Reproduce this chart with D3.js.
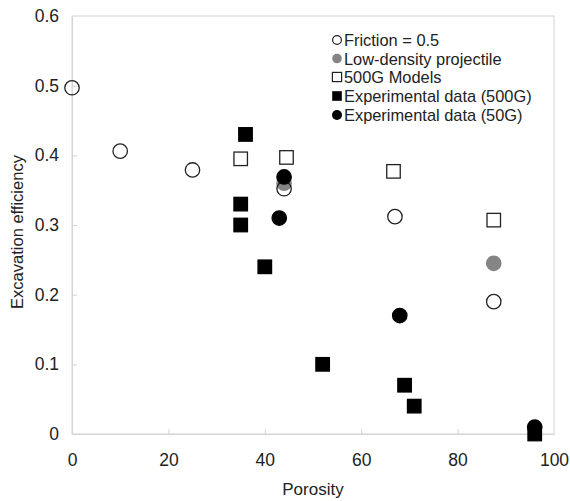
<!DOCTYPE html>
<html><head><meta charset="utf-8">
<script src="https://cdn.jsdelivr.net/npm/d3@7"></script>
<style>body{margin:0;background:#fff}svg{display:block;font-family:"Liberation Sans",Arial,sans-serif}</style>
</head><body><svg id="c" width="570" height="501"></svg>
<script>
const xTicks = [0, 20, 40, 60, 80, 100];
const yTicks = [0, 0.1, 0.2, 0.3, 0.4, 0.5, 0.6];
const yTickLabels = ["0", "0.1", "0.2", "0.3", "0.4", "0.5", "0.6"];
const friction = [[0,0.497],[10,0.406],[25,0.379],[44,0.352],[67,0.312],[87.5,0.19]];
const lowDensity = [[44,0.36],[87.5,0.245]];
const models500G = [[35,0.395],[44.5,0.397],[66.7,0.377],[87.5,0.307]];
const exp500G = [[36,0.43],[35,0.33],[35,0.30],[40,0.24],[52,0.10],[69,0.07],[71,0.04],[96,0.0]];
const exp50G = [[44,0.369],[43,0.31],[68,0.17],[96,0.01]];
const legendLabels = ["Friction = 0.5","Low-density projectile","500G Models","Experimental data (500G)","Experimental data (50G)"];

const svg = d3.select("#c");
const L=72,T=16,R=554,B=434;
const x = d3.scaleLinear().domain([0,100]).range([L,R]);
const y = d3.scaleLinear().domain([0,0.6]).range([B,T]);
const grid="#d4d4d4";
svg.append("rect").attr("x",L).attr("y",T).attr("width",R-L).attr("height",B-T).attr("fill","none").attr("stroke",grid).attr("stroke-width",1);
const xa = svg.append("g").attr("transform",`translate(0,${B})`).call(d3.axisBottom(x).tickValues(xTicks).tickSizeInner(-5).tickSizeOuter(0).tickPadding(20));
const ya = svg.append("g").attr("transform",`translate(${L},0)`).call(d3.axisLeft(y).tickValues(yTicks).tickFormat((d,i)=>yTickLabels[i]).tickSizeInner(-5).tickSizeOuter(0).tickPadding(13));
[xa,ya].forEach(a=>{a.select(".domain").attr("stroke",grid);a.selectAll(".tick line").attr("stroke",grid);a.selectAll("text").attr("font-size",17.5).attr("fill","#222").attr("font-family","'Liberation Sans',Arial,sans-serif");});
ya.selectAll(".tick").filter(d=>d===0.6||d===0).select("line").remove();
xa.selectAll(".tick").filter(d=>d===0||d===100).select("line").remove();

svg.append("text").attr("x",(L+R)/2).attr("y",495).attr("text-anchor","middle").attr("font-size",17).attr("fill","#222").text("Porosity");
svg.append("text").attr("transform",`translate(23,232) rotate(-90)`).attr("text-anchor","middle").attr("font-size",16.5).attr("fill","#222").text("Excavation efficiency");

const g = svg.append("g");
const r=7.2, s=13.5;
function circles(data,fill,stroke){g.selectAll(null).data(data).enter().append("circle").attr("cx",d=>x(d[0])).attr("cy",d=>y(d[1])).attr("r",r).attr("fill",fill).attr("stroke",stroke).attr("stroke-width",1.3);}
function squares(data,fill,stroke){g.selectAll(null).data(data).enter().append("rect").attr("x",d=>x(d[0])-s/2).attr("y",d=>y(d[1])-s/2).attr("width",s).attr("height",s).attr("fill",fill).attr("stroke",stroke).attr("stroke-width",1.3);}
circles(lowDensity,"#858585","#858585");
circles(friction,"none","#222");
squares(models500G,"#fff","#222");
squares(exp500G,"#000","#000");
circles(exp50G,"#000","#000");

const lg = svg.append("g");
const ly=[40,58.5,77,96,115];
legendLabels.forEach((t,i)=>{
  const cx=337, cy=ly[i];
  if(i===0) lg.append("circle").attr("cx",cx).attr("cy",cy).attr("r",4.4).attr("fill","#fff").attr("stroke","#222").attr("stroke-width",1.2);
  if(i===1) lg.append("circle").attr("cx",cx).attr("cy",cy).attr("r",4.8).attr("fill","#858585");
  if(i===2) lg.append("rect").attr("x",cx-4.6).attr("y",cy-4.6).attr("width",9.2).attr("height",9.2).attr("fill","#fff").attr("stroke","#222").attr("stroke-width",1.2);
  if(i===3) lg.append("rect").attr("x",cx-4.8).attr("y",cy-4.8).attr("width",9.6).attr("height",9.6).attr("fill","#000");
  if(i===4) lg.append("circle").attr("cx",cx).attr("cy",cy).attr("r",5).attr("fill","#000");
  lg.append("text").attr("x",344).attr("y",cy+6).attr("font-size",16.4).attr("fill","#222").text(t);
});
</script></body></html>
